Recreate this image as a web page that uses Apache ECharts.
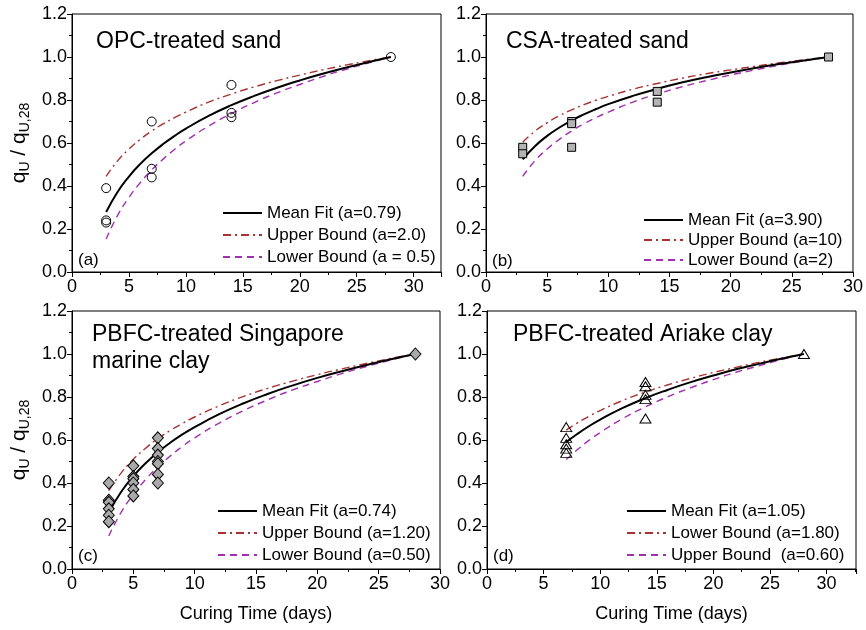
<!DOCTYPE html>
<html>
<head>
<meta charset="utf-8">
<script src="https://cdn.jsdelivr.net/npm/echarts@6/dist/echarts.min.js"></script>
<style>html,body{margin:0;padding:0;background:#fff;}#c{width:866px;height:630px;}</style>
</head>
<body>
<div id="c"></div>
<script>
// ---------- data ----------
// fit curve sample times
const tFull = [3,4,5,6,7,8,9,10,12,14,16,18,20,22,24,26,28];
const tLate = [7,8,9,10,12,14,16,18,20,22,24,26,28];

// (a) OPC-treated sand
const opcX = [3,3,3,7,7,7,14,14,14,28];
const opcY = [0.39,0.24,0.23,0.70,0.48,0.44,0.87,0.74,0.72,1.00];
const opcMean  = [0.279,0.372,0.444,0.503,0.552,0.595,0.633,0.667,0.726,0.776,0.819,0.857,0.891,0.922,0.950,0.976,1.000];
const opcUpper = [0.445,0.517,0.572,0.617,0.656,0.689,0.718,0.744,0.790,0.828,0.861,0.890,0.916,0.940,0.962,0.982,1.000];
const opcLower = [0.154,0.263,0.347,0.416,0.475,0.525,0.570,0.610,0.679,0.737,0.788,0.833,0.872,0.909,0.942,0.972,1.000];

// (b) CSA-treated sand
const csaX = [3,3,7,7,7,14,14,28];
const csaY = [0.58,0.55,0.70,0.69,0.58,0.84,0.79,1.00];
const csaMean  = [0.524,0.585,0.633,0.672,0.705,0.733,0.758,0.781,0.819,0.852,0.881,0.906,0.928,0.949,0.967,0.984,1.000];
const csaUpper = [0.604,0.655,0.694,0.727,0.754,0.778,0.799,0.817,0.850,0.877,0.901,0.922,0.940,0.957,0.973,0.987,1.000];
const csaLower = [0.445,0.517,0.572,0.617,0.656,0.689,0.718,0.744,0.790,0.828,0.861,0.890,0.916,0.940,0.962,0.982,1.000];

// (c) PBFC-treated Singapore marine clay
const smcX = [3,3,3,3,3,3,5,5,5,5,5,5,7,7,7,7,7,7,7,28];
const smcY = [0.40,0.32,0.31,0.28,0.25,0.22,0.48,0.43,0.42,0.40,0.37,0.34,0.61,0.56,0.53,0.50,0.49,0.44,0.40,1.00];
const smcMean  = [0.263,0.358,0.432,0.492,0.543,0.587,0.626,0.660,0.720,0.771,0.815,0.854,0.889,0.920,0.949,0.976,1.000];
const smcUpper = [0.364,0.446,0.510,0.562,0.606,0.644,0.677,0.707,0.759,0.803,0.841,0.874,0.904,0.931,0.956,0.979,1.000];
const smcLower = [0.154,0.263,0.347,0.416,0.475,0.525,0.570,0.610,0.679,0.737,0.788,0.833,0.872,0.909,0.942,0.972,1.000];

// (d) PBFC-treated Ariake clay
const acX = [7,7,7,7,7,14,14,14,14,14,28];
const acY = [0.66,0.61,0.58,0.56,0.54,0.87,0.85,0.81,0.79,0.70,1.00];
const acMean = [0.590,0.629,0.664,0.695,0.749,0.795,0.834,0.869,0.900,0.929,0.954,0.978,1.000];
const acDashDot = [0.646,0.680,0.710,0.737,0.784,0.823,0.857,0.887,0.914,0.938,0.961,0.981,1.000];
const acDashed  = [0.509,0.556,0.598,0.635,0.700,0.754,0.802,0.843,0.881,0.915,0.945,0.974,1.000];

const xTicks = [0,5,10,15,20,25,30];
const yTicks = [0,0.2,0.4,0.6,0.8,1.0,1.2];

const panels = [
  {title:['OPC-treated sand'], tag:'(a)', xMax:32.4, names:['Mean Fit (a=0.79)','Upper Bound (a=2.0)','Lower Bound (a = 0.5)'], t:tFull, curves:[opcMean,opcUpper,opcLower], px:opcX, py:opcY, marker:'circle'},
  {title:['CSA-treated sand'], tag:'(b)', xMax:30, names:['Mean Fit (a=3.90)','Upper Bound (a=10)','Lower Bound (a=2)'], t:tFull, curves:[csaMean,csaUpper,csaLower], px:csaX, py:csaY, marker:'rect'},
  {title:['PBFC-treated Singapore','marine clay'], tag:'(c)', xMax:30, names:['Mean Fit (a=0.74)','Upper Bound (a=1.20)','Lower Bound (a=0.50)'], t:tFull, curves:[smcMean,smcUpper,smcLower], px:smcX, py:smcY, marker:'diamond'},
  {title:['PBFC-treated Ariake clay'], tag:'(d)', xMax:32.6, names:['Mean Fit (a=1.05)','Lower Bound (a=1.80)','Upper Bound  (a=0.60)'], t:tLate, curves:[acMean,acDashDot,acDashed], px:acX, py:acY, marker:'triangle'}
];

// ---------- layout / style ----------
const FONT = '"Liberation Sans", Arial, sans-serif';
const grids = [
  {left:72, top:14, width:369, height:258},
  {left:486, top:14, width:369, height:258},
  {left:72, top:311, width:368, height:258},
  {left:487, top:311, width:369, height:258}
];
const legendPos = [
  {left:222, top:204, gap:4},
  {left:643, top:211, gap:2},
  {left:217, top:502, gap:4},
  {left:626, top:502, gap:4}
];
const lineStyles = [
  {color:'#000000', width:2, type:'solid'},
  {color:'#a83232', width:1.4, type:[8,4,2,4]},
  {color:'#a22fb0', width:1.4, type:[7,5]}
];
const markerStyles = {
  circle:   {symbol:'circle', size:9, fill:'rgba(0,0,0,0)'},
  rect:     {symbol:'rect', size:8, fill:'#b4b4b4'},
  diamond:  {symbol:'diamond', size:[11,12], fill:'#a9a9a9'},
  triangle: {symbol:'triangle', size:[11,9], fill:'rgba(0,0,0,0)'}
};
const titlePos = [
  {x:96, y:42},
  {x:506, y:42},
  {x:92, y:335},
  {x:513, y:335}
];
const tagPos = [
  {x:78, y:262},
  {x:492, y:263},
  {x:78, y:558},
  {x:493, y:558}
];

const ytitle = {
  name:'{q|q}{s|U}{q| / q}{s|U,28}',
  rich:{
    q:{fontSize:21, fontFamily:FONT, color:'#000', lineHeight:26, verticalAlign:'middle'},
    s:{fontSize:14, fontFamily:FONT, color:'#000', lineHeight:26, verticalAlign:'bottom', padding:[10,0,0,0]}
  }
};

const option = {
  backgroundColor:'#ffffff',
  animation:false,
  grid: grids.map(g => Object.assign({show:true, borderColor:'#000', borderWidth:1, backgroundColor:'rgba(0,0,0,0)'}, g)),
  xAxis: panels.map((p,i) => ({
    type:'value', gridIndex:i, min:0, max:p.xMax, interval:5,
    axisLine:{show:true, onZero:false, lineStyle:{color:'#000', width:1}},
    axisTick:{show:true, length:5, lineStyle:{color:'#000'}},
    minorTick:{show:true, splitNumber:2, length:3, lineStyle:{color:'#000'}},
    splitLine:{show:false},
    axisLabel:{fontSize:18, fontFamily:FONT, color:'#000', margin:6, showMaxLabel: p.xMax===30,
      formatter: v => (xTicks.indexOf(v) >= 0 ? String(v) : '')},
    name: i>=2 ? 'Curing Time (days)' : '',
    nameLocation:'middle', nameGap:36,
    nameTextStyle:{fontSize:18, fontFamily:FONT, color:'#000'}
  })),
  yAxis: panels.map((p,i) => ({
    type:'value', gridIndex:i, min:0, max:1.2, interval:0.2,
    axisLine:{show:true, lineStyle:{color:'#000', width:1}},
    axisTick:{show:true, length:5, lineStyle:{color:'#000'}},
    minorTick:{show:true, splitNumber:2, length:3, lineStyle:{color:'#000'}},
    splitLine:{show:false},
    axisLabel:{fontSize:18, fontFamily:FONT, color:'#000', margin:5,
      formatter: v => yTicks.some(t => Math.abs(t - v) < 1e-9) ? v.toFixed(1) : ''},
    name: (i % 2 === 0) ? ytitle.name : '',
    nameLocation:'middle', nameRotate:90, nameGap:40,
    nameTextStyle:{rich:ytitle.rich}
  })),
  legend: panels.map((p,i) => ({
    orient:'vertical', left:legendPos[i].left, top:legendPos[i].top,
    itemWidth:39, itemHeight:12, itemGap:legendPos[i].gap, padding:0,
    itemStyle:{opacity:0, color:'rgba(0,0,0,0)', borderWidth:0},
    textStyle:{fontSize:17, fontFamily:FONT, color:'#000', lineHeight:18},
    data:p.names, selectedMode:false
  })),
  graphic: [],
  series: []
};

panels.forEach((p,i) => {
  p.curves.forEach((c,k) => {
    option.series.push({
      type:'line', name:p.names[k], xAxisIndex:i, yAxisIndex:i,
      data: p.t.map((t,j) => [t, c[j]]),
      smooth:true, symbol:'none', showSymbol:false,
      lineStyle:{color:lineStyles[k].color, width:lineStyles[k].width, type:lineStyles[k].type},
      itemStyle:{color:lineStyles[k].color},
      z: 3 - k
    });
  });
  const m = markerStyles[p.marker];
  option.series.push({
    type:'scatter', name:'data'+i, xAxisIndex:i, yAxisIndex:i,
    data: p.px.map((x,j) => [x, p.py[j]]),
    symbol:m.symbol, symbolSize:m.size,
    itemStyle:{color:m.fill, borderColor:'#000', borderWidth:1, opacity:1},
    z:5
  });
  option.graphic.push({
    type:'text', left:titlePos[i].x, top:titlePos[i].y - 14,
    style:{text:p.title.join('\n'), font:'23px ' + FONT, fill:'#000', lineHeight:27}
  });
  option.graphic.push({
    type:'text', left:tagPos[i].x, top:tagPos[i].y - 10,
    style:{text:p.tag, font:'17px ' + FONT, fill:'#000'}
  });
});

const chart = echarts.init(document.getElementById('c'), null, {renderer:'canvas'});
chart.setOption(option);
</script>
</body>
</html>
